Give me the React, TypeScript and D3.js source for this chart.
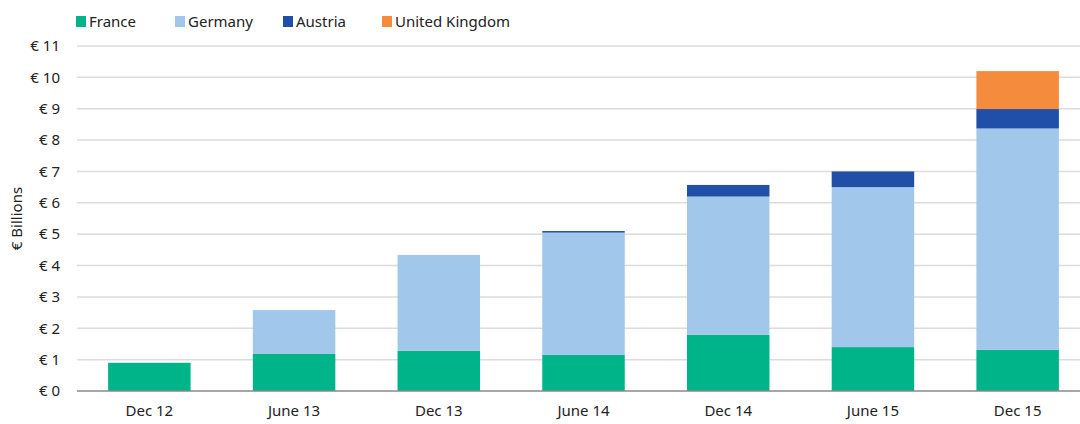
import React from "react";
import * as d3 from "d3";

const categories = ["Dec 12", "June 13", "Dec 13", "June 14", "Dec 14", "June 15", "Dec 15"];
const seriesNames = ["France", "Germany", "Austria", "United Kingdom"];
const france = [0.9, 1.18, 1.28, 1.15, 1.79, 1.4, 1.31];
const germany = [0, 1.4, 3.06, 3.9, 4.41, 5.1, 7.06];
const austria = [0, 0, 0, 0.05, 0.37, 0.5, 0.62];
const uk = [0, 0, 0, 0, 0, 0, 1.21];
const yTicks = [0, 1, 2, 3, 4, 5, 6, 7, 8, 9, 10, 11];
const colors = ["#00b48a", "#a1c7ea", "#1f4fa8", "#f58b3c"];

const W = 1080;
const H = 424;
const FONT = "'Noto Sans', 'Open Sans', sans-serif";

export default function App() {
  const x = d3.scaleBand<string>().domain(categories).range([77, 1090]).paddingInner(0.43).paddingOuter(0.215);
  const y = d3.scaleLinear().domain([0, 11]).range([391, 46]);
  const rows = categories.map((c, i) => ({
    cat: c,
    France: france[i],
    Germany: germany[i],
    Austria: austria[i],
    "United Kingdom": uk[i],
  }));
  const stacked = d3.stack<any>().keys(seriesNames)(rows);
  const legendX = [76, 175, 283, 382];

  return (
    <svg width={W} height={H} style={{ position: "absolute", left: 0, top: 0, background: "#fff" }} fontFamily={FONT}>
      {yTicks.map((t) => (
        <g key={t}>
          {t > 0 && <line x1={77} x2={W} y1={y(t)} y2={y(t)} stroke="#dcdcdc" strokeWidth={1.5} />}
          <text x={60} y={y(t)} dy="0.35em" textAnchor="end" fontSize={15} fill="#222">
            {"€ " + t}
          </text>
        </g>
      ))}
      <text transform={`translate(22,${y(5.5)}) rotate(-90)`} textAnchor="middle" fontSize={15} fill="#222">
        € Billions
      </text>
      {stacked.map((s, si) => (
        <g key={s.key} fill={colors[si]}>
          {s.map((d, i) =>
            d[1] - d[0] > 0 ? (
              <rect key={i} x={x(categories[i])} width={x.bandwidth()} y={y(d[1])} height={y(d[0]) - y(d[1])} />
            ) : null
          )}
        </g>
      ))}
      <line x1={77} x2={W} y1={y(0)} y2={y(0)} stroke="#8a8a8a" strokeWidth={1.5} />
      {categories.map((c) => (
        <text key={c} x={(x(c) as number) + x.bandwidth() / 2} y={416} textAnchor="middle" fontSize={15} fill="#222">
          {c}
        </text>
      ))}
      {seriesNames.map((n, i) => (
        <g key={n}>
          <rect x={legendX[i]} y={16} width={10} height={11} fill={colors[i]} />
          <text x={legendX[i] + 13} y={26.5} fontSize={15} fill="#222">
            {n}
          </text>
        </g>
      ))}
    </svg>
  );
}
